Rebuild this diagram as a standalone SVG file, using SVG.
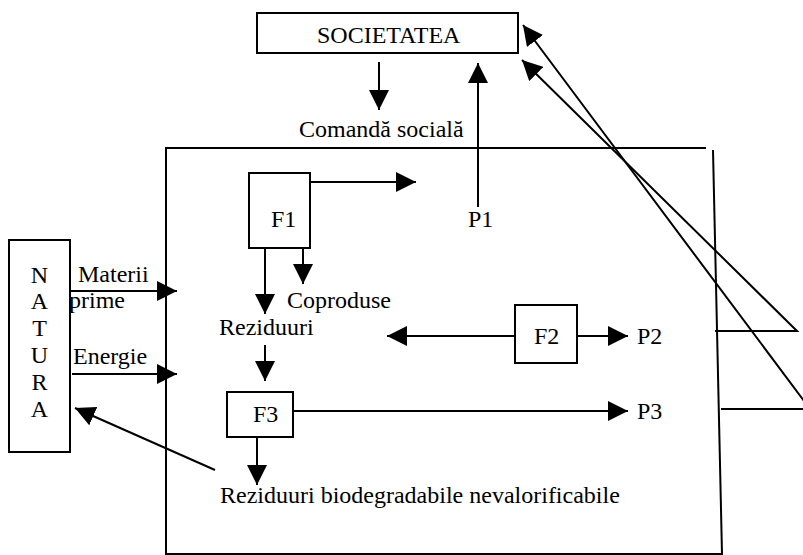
<svg xmlns="http://www.w3.org/2000/svg" width="803" height="555" viewBox="0 0 803 555">
  <style>
    .box { fill: none; stroke: #000; stroke-width: 2; }
    .line { fill: none; stroke: #000; stroke-width: 2; }
    .arrow { fill: none; stroke: #000; stroke-width: 2; marker-end: url(#head); }
    text { font-family: 'Liberation Serif', 'Tinos', 'DejaVu Serif', serif; font-size: 24px; fill: #000; }
    .mid { text-anchor: middle; }
  </style>
  <defs>
    <marker id="head" markerUnits="userSpaceOnUse" markerWidth="20" markerHeight="20" refX="20" refY="10" orient="auto">
      <path d="M0,0 L20,10 L0,20 Z" fill="#000"/>
    </marker>
  </defs>
  <rect width="803" height="555" fill="#fff"/>

  <!-- society -->
  <g id="societatea">
    <rect class="box" x="257" y="13" width="261" height="40"/>
    <text x="317" y="43">SOCIETATEA</text>
  </g>
  <text id="comanda" x="299" y="137">Comandă socială</text>

  <!-- production system boundary -->
  <g id="sistem">
    <path class="line" d="M706,148 H166 V554 H722 L713,150"/>
  </g>

  <!-- nature -->
  <g id="natura">
    <rect class="box" x="9" y="240" width="61" height="212"/>
    <text class="mid" x="39.5" y="283">N</text>
    <text class="mid" x="39.5" y="309">A</text>
    <text class="mid" x="39.5" y="336">T</text>
    <text class="mid" x="39.5" y="363">U</text>
    <text class="mid" x="39.5" y="390">R</text>
    <text class="mid" x="39.5" y="417">A</text>
  </g>

  <g id="f1">
    <rect class="box" x="249" y="173" width="61" height="75"/>
    <text x="271" y="227">F1</text>
  </g>
  <g id="f2">
    <rect class="box" x="515" y="305" width="62" height="58"/>
    <text x="534" y="344">F2</text>
  </g>
  <g id="f3">
    <rect class="box" x="227" y="392" width="66" height="45"/>
    <text x="253" y="422">F3</text>
  </g>

  <!-- flow labels -->
  <g id="labels">
    <text x="78" y="282">Materii</text>
    <text x="69" y="308">prime</text>
    <text x="73" y="364">Energie</text>
    <text x="287" y="308">Coproduse</text>
    <text x="219" y="335">Reziduuri</text>
    <text x="468" y="227">P1</text>
    <text x="637" y="344">P2</text>
    <text x="637" y="419">P3</text>
    <text x="220" y="503">Reziduuri biodegradabile nevalorificabile</text>
  </g>

  <!-- connectors -->
  <g id="connectors">
    <line class="arrow" x1="379" y1="62" x2="379" y2="110"/>
    <line class="arrow" x1="478" y1="207" x2="478" y2="63"/>
    <line class="arrow" x1="310" y1="182" x2="416" y2="182"/>
    <line class="arrow" x1="265" y1="248" x2="265" y2="314"/>
    <line class="arrow" x1="303" y1="248" x2="303" y2="284"/>
    <line class="arrow" x1="70" y1="291" x2="177" y2="291"/>
    <line class="arrow" x1="72" y1="374" x2="177" y2="374"/>
    <line class="arrow" x1="265" y1="345" x2="265" y2="381"/>
    <line class="arrow" x1="515" y1="336" x2="387" y2="336"/>
    <line class="arrow" x1="577" y1="336" x2="628" y2="336"/>
    <line class="arrow" x1="293" y1="411" x2="628" y2="411"/>
    <line class="arrow" x1="257" y1="437" x2="257" y2="485"/>
    <line class="arrow" x1="215" y1="470" x2="75" y2="408"/>
    <polyline class="arrow" points="715,331 797,331 522,60"/>
    <polyline class="arrow" points="721,409 810,409 523,25"/>
  </g>
</svg>
